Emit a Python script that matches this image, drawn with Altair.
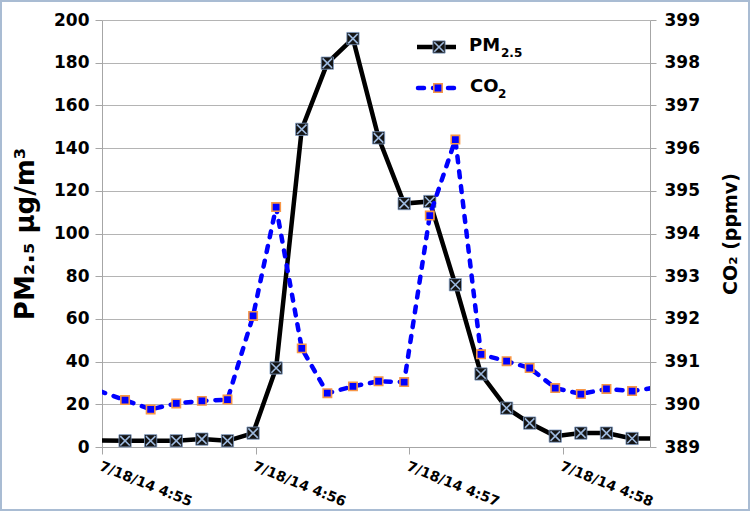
import altair as alt
import pandas as pd

# ---- data ----
marker_times = [
    "2014-07-18T04:55:09", "2014-07-18T04:55:19", "2014-07-18T04:55:29",
    "2014-07-18T04:55:39", "2014-07-18T04:55:49", "2014-07-18T04:55:59",
    "2014-07-18T04:56:08", "2014-07-18T04:56:18", "2014-07-18T04:56:28",
    "2014-07-18T04:56:38", "2014-07-18T04:56:48", "2014-07-18T04:56:58",
    "2014-07-18T04:57:08", "2014-07-18T04:57:18", "2014-07-18T04:57:28",
    "2014-07-18T04:57:38", "2014-07-18T04:57:47", "2014-07-18T04:57:57",
    "2014-07-18T04:58:07", "2014-07-18T04:58:17", "2014-07-18T04:58:27",
]
pm25 = [2.9, 2.9, 2.9, 3.7, 2.9, 6.5, 37.0, 148.8, 179.8, 191.3, 144.8,
        114.0, 115.0, 76.0, 34.2, 18.2, 11.2, 5.1, 6.5, 6.5, 4.0]
co2 = [390.10, 389.88, 390.02, 390.08, 390.11, 392.07, 394.62, 391.31,
       390.26, 390.42, 390.54, 390.52, 394.42, 396.20, 391.17, 391.01,
       390.85, 390.38, 390.24, 390.36, 390.31]

# samples just outside the visible time window (lines run to the plot edges)
edge_times = ["2014-07-18T04:54:59", "2014-07-18T04:58:37"]
edge_pm25 = [3.0, 4.0]
edge_co2 = [390.31, 390.40]

y_left_ticks = list(range(0, 201, 20))
y_right_ticks = list(range(389, 400))

markers = pd.DataFrame({"t": marker_times, "pm": pm25, "co2": co2})
lines = pd.concat([
    pd.DataFrame({"t": edge_times[:1], "pm": edge_pm25[:1], "co2": edge_co2[:1]}),
    markers,
    pd.DataFrame({"t": edge_times[1:], "pm": edge_pm25[1:], "co2": edge_co2[1:]}),
], ignore_index=True)

FONT = "DejaVu Sans"
AX_GRAY = "#A6A6A6"

x_enc = alt.X(
    "t:T",
    scale=alt.Scale(domain=[
        alt.DateTime(year=2014, month=7, date=18, hours=4, minutes=55, seconds=0),
        alt.DateTime(year=2014, month=7, date=18, hours=4, minutes=58, seconds=34),
    ]),
    axis=alt.Axis(
        values=[
            alt.DateTime(year=2014, month=7, date=18, hours=4, minutes=m)
            for m in (55, 56, 57, 58)
        ],
        format="%-m/%-d/%y %-H:%M",
        labelAngle=22, labelAlign="left", labelBaseline="top",
        labelFont=FONT, labelFontWeight="bold", labelFontSize=14,
        labelColor="black", labelPadding=5, labelOverlap=False,
        tickSize=7, tickColor=AX_GRAY, domainColor=AX_GRAY,
        grid=False, title=None,
    ),
)

y_left = alt.Y(
    "pm:Q",
    scale=alt.Scale(domain=[0, 200], nice=False, zero=False),
    axis=alt.Axis(
        values=y_left_ticks, title="PM₂.₅ µg/m³",
        titleFont=FONT, titleFontSize=26, titleFontWeight="bold",
        titleColor="black", titlePadding=15,
        labelFont=FONT, labelFontWeight="bold", labelFontSize=17,
        labelColor="black", labelPadding=6,
        tickSize=7, tickColor=AX_GRAY, domainColor=AX_GRAY,
        grid=True, gridColor="#B4B4B4", gridWidth=1.2,
    ),
)

y_right = alt.Y(
    "co2:Q",
    scale=alt.Scale(domain=[389, 399], nice=False, zero=False),
    axis=alt.Axis(
        orient="right", values=y_right_ticks, title="CO₂ (ppmv)",
        titleFont=FONT, titleFontSize=19, titleFontWeight="bold",
        titleColor="black", titlePadding=22, titleAngle=270,
        titleBaseline="top",
        labelFont=FONT, labelFontWeight="bold", labelFontSize=17,
        labelColor="black", labelPadding=8,
        tickSize=6, tickColor=AX_GRAY, domainColor=AX_GRAY,
        grid=False,
    ),
)

X_PATH = "M-1,-1L1,1M1,-1L-1,1"

pm_line = alt.Chart(lines).mark_line(
    color="black", strokeWidth=4.5, clip=True
).encode(x=x_enc, y=y_left)
pm_sq = alt.Chart(markers).mark_point(
    shape="square", filled=True, fill="#141414", stroke="#7F9CC4",
    strokeWidth=0.8, size=150, opacity=1
).encode(x=x_enc, y=y_left)
pm_x = alt.Chart(markers).mark_point(
    shape=X_PATH, filled=False, stroke="#9DB9DE", strokeWidth=1.6,
    size=90, opacity=1
).encode(x=x_enc, y=y_left)

co2_line = alt.Chart(lines).mark_line(
    color="#0000FF", strokeWidth=4.5, strokeDash=[6, 9], strokeCap="round",
    clip=True
).encode(x=x_enc, y=y_right)
co2_pts = alt.Chart(markers).mark_point(
    shape="square", filled=True, fill="#0000FF", stroke="#F79646",
    strokeWidth=1.6, size=70, opacity=1
).encode(x=x_enc, y=y_right)

left = alt.layer(pm_line, pm_sq, pm_x)
right = alt.layer(co2_line, co2_pts)

# ---- legend (drawn by hand to get subscripts and combined symbols) ----
one = pd.DataFrame({"k": [0]})
leg = [
    alt.Chart(one).mark_rule(color="black", strokeWidth=4.5).encode(
        x=alt.value(315), x2=alt.value(354), y=alt.value(27)),
    alt.Chart(one).mark_point(shape="square", filled=True, fill="#141414",
                              stroke="#7F9CC4", strokeWidth=0.8, size=150,
                              opacity=1).encode(x=alt.value(337), y=alt.value(27)),
    alt.Chart(one).mark_point(shape=X_PATH, filled=False, stroke="#9DB9DE",
                              strokeWidth=1.6, size=90, opacity=1).encode(
        x=alt.value(337), y=alt.value(27)),
    alt.Chart(one).mark_text(text="PM", font=FONT, fontWeight="bold",
                             fontSize=18, align="left", baseline="middle",
                             color="black").encode(x=alt.value(367), y=alt.value(26)),
    alt.Chart(one).mark_text(text="2.5", font=FONT, fontWeight="bold",
                             fontSize=12, align="left", baseline="middle",
                             color="black").encode(x=alt.value(399), y=alt.value(33)),
    alt.Chart(one).mark_rule(color="#0000FF", strokeWidth=4.5,
                             strokeDash=[6, 9], strokeCap="round").encode(
        x=alt.value(316), x2=alt.value(358), y=alt.value(68)),
    alt.Chart(one).mark_point(shape="square", filled=True, fill="#0000FF",
                              stroke="#F79646", strokeWidth=1.6, size=70,
                              opacity=1).encode(x=alt.value(336), y=alt.value(68)),
    alt.Chart(one).mark_text(text="CO", font=FONT, fontWeight="bold",
                             fontSize=18, align="left", baseline="middle",
                             color="black").encode(x=alt.value(368), y=alt.value(67)),
    alt.Chart(one).mark_text(text="2", font=FONT, fontWeight="bold",
                             fontSize=12, align="left", baseline="middle",
                             color="black").encode(x=alt.value(396), y=alt.value(74)),
]

frame = alt.Chart(one).mark_rect(
    filled=False, stroke="#A9BCD3", strokeWidth=2
).encode(x=alt.value(-101), x2=alt.value(647), y=alt.value(-19), y2=alt.value(490))

chart = alt.layer(left, right, *leg, frame).resolve_scale(y="independent").properties(
    width=548, height=427,
    padding={"left": 102, "top": 20, "right": 101, "bottom": 65},
    autosize=alt.AutoSizeParams(type="none"),
    background="white",
).configure_view(stroke=None)

chart.save("out.html", embed_options={"renderer": "svg", "actions": False})
